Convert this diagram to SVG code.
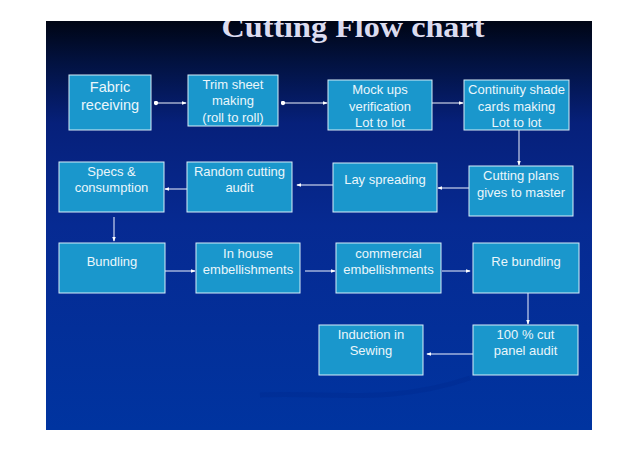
<svg xmlns="http://www.w3.org/2000/svg" width="638" height="452" viewBox="0 0 638 452">
<defs>
<linearGradient id="bg" x1="0" y1="0" x2="0" y2="1">
<stop offset="0" stop-color="#000514"/>
<stop offset="0.1" stop-color="#021240"/>
<stop offset="0.25" stop-color="#06207a"/>
<stop offset="0.5" stop-color="#062a92"/>
<stop offset="1" stop-color="#0034a0"/>
</linearGradient>
<clipPath id="slide"><rect x="46" y="21" width="546" height="409"/></clipPath>
<marker id="arr" viewBox="0 0 6 6" refX="5" refY="3" markerWidth="5" markerHeight="5" orient="auto" markerUnits="userSpaceOnUse">
<path d="M0,0.8 L6,3 L0,5.2 Z" fill="#ffffff"/>
</marker>
<marker id="dot" viewBox="0 0 6 6" refX="3" refY="3" markerWidth="5" markerHeight="5" markerUnits="userSpaceOnUse">
<circle cx="3" cy="3" r="2.6" fill="#ffffff"/>
</marker>
</defs>
<style>
.box{fill:#1a97cc;stroke:#d8eef8;stroke-width:1}
.t{font-family:"Liberation Sans",Arial,sans-serif;font-size:13px;fill:#eaf6fb;text-anchor:middle}
.tb{font-size:14.5px}
.c{stroke:#f0f4ff;stroke-width:1;fill:none}
</style>
<rect x="0" y="0" width="638" height="452" fill="#ffffff"/>
<g clip-path="url(#slide)">
<rect x="46" y="21" width="546" height="409" fill="url(#bg)"/>
<path d="M260,395 C330,392 390,405 470,378" stroke="#001e78" stroke-width="5" fill="none" opacity="0.15"/>
<text x="353" y="37" font-family="'Liberation Serif','Times New Roman',serif" font-weight="bold" font-size="30" fill="#dcdcf0" text-anchor="middle" textLength="263" lengthAdjust="spacingAndGlyphs">Cutting Flow chart</text>
</g>
<g id="connectors">
<line class="c" x1="156" y1="103" x2="186" y2="103" marker-start="url(#dot)" marker-end="url(#arr)"/>
<line class="c" x1="283" y1="103" x2="327" y2="103" marker-start="url(#dot)" marker-end="url(#arr)"/>
<line class="c" x1="432" y1="103" x2="463" y2="103" marker-end="url(#arr)"/>
<line class="c" x1="519" y1="130" x2="519" y2="165" marker-end="url(#arr)"/>
<line class="c" x1="469" y1="188" x2="438" y2="188" marker-end="url(#arr)"/>
<line class="c" x1="333" y1="185" x2="297" y2="185" marker-end="url(#arr)"/>
<line class="c" x1="187" y1="189" x2="165" y2="189" marker-end="url(#arr)"/>
<line class="c" x1="114" y1="217" x2="114" y2="241" marker-end="url(#arr)"/>
<line class="c" x1="165" y1="271" x2="195" y2="271" marker-end="url(#arr)"/>
<line class="c" x1="305" y1="271" x2="335" y2="271" marker-end="url(#arr)"/>
<line class="c" x1="442" y1="271" x2="470" y2="271" marker-end="url(#arr)"/>
<line class="c" x1="528" y1="293" x2="528" y2="324" marker-end="url(#arr)"/>
<line class="c" x1="473" y1="354" x2="427" y2="354" marker-end="url(#arr)"/>
</g>
<g id="n1"><rect class="box" x="69" y="75" width="82" height="55"/><text class="t tb" x="110" y="92">Fabric</text><text class="t tb" x="110" y="110">receiving</text></g>
<g id="n2"><rect class="box" x="188" y="75" width="90" height="51"/><text class="t" x="233" y="89">Trim sheet</text><text class="t" x="233" y="105">making</text><text class="t" x="233" y="121.5">(roll to roll)</text></g>
<g id="n3"><rect class="box" x="328" y="80" width="104" height="50"/><text class="t" x="380" y="93.5">Mock ups</text><text class="t" x="380" y="110.5">verification</text><text class="t" x="380" y="126.5">Lot to lot</text></g>
<g id="n4"><rect class="box" x="464" y="80" width="105" height="50"/><text class="t" x="516.5" y="93.5">Continuity shade</text><text class="t" x="516.5" y="110.5">cards making</text><text class="t" x="516.5" y="126.5">Lot to lot</text></g>
<g id="n5"><rect class="box" x="469" y="166" width="104" height="50"/><text class="t" x="521" y="180">Cutting plans</text><text class="t" x="521" y="196.5">gives to master</text></g>
<g id="n6"><rect class="box" x="333" y="163" width="104" height="49"/><text class="t" x="385" y="183.5">Lay spreading</text></g>
<g id="n7"><rect class="box" x="187" y="162" width="105" height="50"/><text class="t" x="239.5" y="175.5">Random cutting</text><text class="t" x="239.5" y="192">audit</text></g>
<g id="n8"><rect class="box" x="59" y="162" width="105" height="50"/><text class="t" x="111.5" y="175.5">Specs &amp;</text><text class="t" x="111.5" y="192">consumption</text></g>
<g id="n9"><rect class="box" x="59" y="243" width="106" height="50"/><text class="t" x="112" y="266">Bundling</text></g>
<g id="n10"><rect class="box" x="196" y="243" width="104" height="50"/><text class="t" x="248" y="257.5">In house</text><text class="t" x="248" y="274">embellishments</text></g>
<g id="n11"><rect class="box" x="336" y="243" width="105" height="50"/><text class="t" x="388.5" y="257.5">commercial</text><text class="t" x="388.5" y="274">embellishments</text></g>
<g id="n12"><rect class="box" x="473" y="243" width="106" height="50"/><text class="t" x="526" y="266">Re bundling</text></g>
<g id="n13"><rect class="box" x="473" y="325" width="105" height="50"/><text class="t" x="525.5" y="338.5">100 % cut</text><text class="t" x="525.5" y="355">panel audit</text></g>
<g id="n14"><rect class="box" x="319" y="325" width="104" height="50"/><text class="t" x="371" y="338.5">Induction in</text><text class="t" x="371" y="355">Sewing</text></g>
</svg>
